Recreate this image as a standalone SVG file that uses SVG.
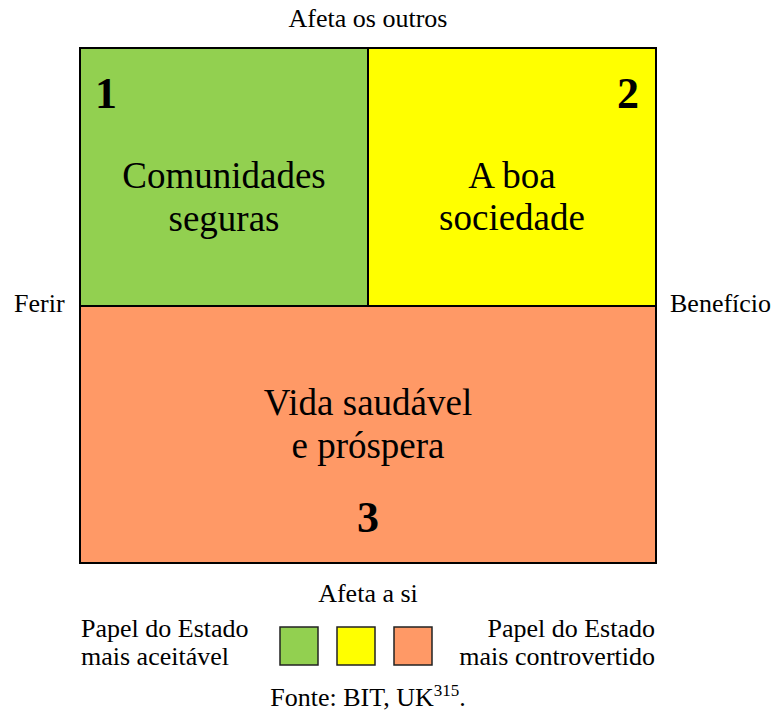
<svg xmlns="http://www.w3.org/2000/svg" width="774" height="713" viewBox="0 0 774 713">
<style>
text{font-family:"Liberation Serif","Times New Roman",serif;fill:#000}
.lbl{font-size:26px}
.big{font-size:37px;text-anchor:middle}
.num{font-size:44px;font-weight:bold}
.q{stroke:#000;stroke-width:2}
.sw{stroke:#222;stroke-width:1.5}
</style>
<rect width="774" height="713" fill="#fff"/>
<g id="q1">
<rect class="q" x="80" y="48" width="288" height="258" fill="#92D050"/>
<text class="num" x="95" y="108">1</text>
<text class="big" x="224" y="188">Comunidades</text>
<text class="big" x="224" y="231">seguras</text>
</g>
<g id="q2">
<rect class="q" x="368" y="48" width="288" height="258" fill="#FFFF00"/>
<text class="num" x="639" y="108" text-anchor="end">2</text>
<text class="big" x="512" y="188">A boa</text>
<text class="big" x="512" y="230">sociedade</text>
</g>
<g id="q3">
<rect class="q" x="80" y="306" width="576" height="257" fill="#FF9966"/>
<text class="big" x="368" y="415">Vida saudável</text>
<text class="big" x="368" y="458">e próspera</text>
<text class="num" x="368" y="532" text-anchor="middle">3</text>
</g>
<g id="axes">
<text class="lbl" x="368" y="27" text-anchor="middle">Afeta os outros</text>
<text class="lbl" x="368" y="602" text-anchor="middle">Afeta a si</text>
<text class="lbl" x="14" y="312">Ferir</text>
<text class="lbl" x="670" y="312">Benefício</text>
</g>
<g id="legend">
<rect class="sw" x="280" y="627" width="38" height="38" fill="#92D050"/>
<rect class="sw" x="337" y="627" width="38" height="38" fill="#FFFF00"/>
<rect class="sw" x="394" y="627" width="38" height="38" fill="#FF9966"/>
<text class="lbl" x="81" y="637">Papel do Estado</text>
<text class="lbl" x="81" y="665">mais aceitável</text>
<text class="lbl" x="655" y="637" text-anchor="end">Papel do Estado</text>
<text class="lbl" x="655" y="665" text-anchor="end">mais controvertido</text>
</g>
<g id="source">
<text class="lbl" x="368" y="706" text-anchor="middle">Fonte: BIT, UK<tspan font-size="17" dy="-10">315</tspan><tspan dy="10">.</tspan></text>
</g>
</svg>
